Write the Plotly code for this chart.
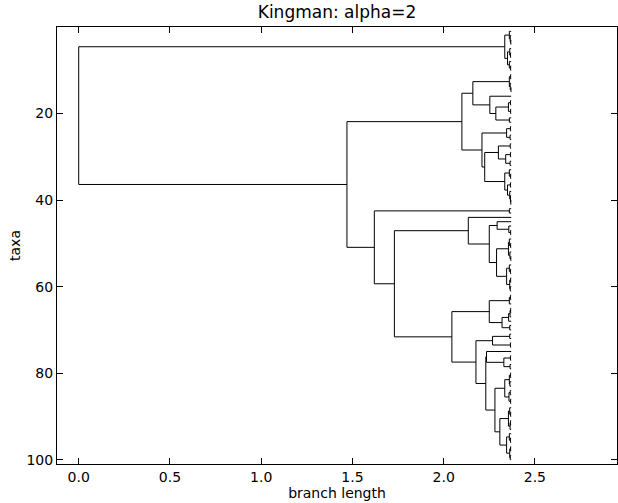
import plotly.graph_objects as go

# ---------------- data ----------------
TITLE = "Kingman: alpha=2"
X_LABEL = "branch length"
Y_LABEL = "taxa"
X_TICKS = [0.0, 0.5, 1.0, 1.5, 2.0, 2.5]
X_TICK_TEXT = ["0.0", "0.5", "1.0", "1.5", "2.0", "2.5"]
Y_TICKS = [20, 40, 60, 80, 100]
Y_TICK_TEXT = ["20", "40", "60", "80", "100"]
X_RANGE = [-0.119, 2.95]
Y_RANGE = [101, 0]
LEAF_X = 2.37  # all taxa sit at the same branch length (ultrametric tree)

# clades written as "(child,child):node_position"; leaves are taxa numbers
A1 = "(1,(2,(3,4):2.368):2.365):2.36"
A2 = "((5,(6,7):2.366):2.362,(8,(9,10):2.367):2.36):2.35"
CLADE_A = f"({A1},{A2}):2.335"

B1A1 = "((11,12):2.367,(13,(14,15):2.369):2.365):2.36"
B1A_X = "((17,18):2.366,(19,20):2.367):2.355"
B1A_Y = "(21,22):2.36"
B1A2 = f"(16,({B1A_X},{B1A_Y}):2.286):2.253"
B1A = f"({B1A1},{B1A2}):2.16"
B1B1 = "((23,24):2.366,(25,26):2.364):2.345"
B1B_P = "((27,28):2.365,((29,30):2.366,(31,32):2.364):2.34):2.30"
B1B_Q = "((33,(34,35):2.367):2.36,((36,37):2.366,(38,(39,(40,41):2.368):2.366):2.362):2.35):2.335"
B1B = f"({B1B1},({B1B_P},{B1B_Q}):2.225):2.21"
CLADE_B1 = f"({B1A},{B1B}):2.10"

B2A = "(42,43):2.36"
C1_U = "(45,(46,(47,48):2.367):2.357):2.293"
C1_L1 = "((49,(50,51):2.367):2.36,(52,(53,54):2.368):2.363):2.355"
C1_L2 = "((55,(56,57):2.366):2.36,((58,59):2.367,(60,61):2.365):2.362):2.345"
CLADE_C1 = f"(44,({C1_U},({C1_L1},{C1_L2}):2.29):2.25):2.135"

C2A = "(((62,63):2.366,64):2.36,((((65,66):2.367,67):2.364,68):2.356,(69,70):2.362):2.32):2.25"
C2_D1 = "((71,72):2.362,(73,74):2.366):2.268"
C2_D2A = "(75,((76,77):2.366,(78,79):2.364):2.33):2.235"
C2_E1 = "(((80,81):2.366,(82,83):2.363):2.36,((84,85):2.365,(86,87):2.367):2.358):2.335"
C2_E2A = "((88,(89,90):2.367):2.362,((91,92):2.366,93):2.364):2.355"
C2_E2B = "((94,(95,96):2.366):2.36,((97,98):2.367,(99,100):2.365):2.362):2.345"
C2_E = f"({C2_E1},({C2_E2A},{C2_E2B}):2.308):2.281"
CLADE_C2 = f"({C2A},({C2_D1},({C2_D2A},{C2_E}):2.231):2.177):2.045"

CLADE_B = f"({CLADE_B1},({B2A},({CLADE_C1},{CLADE_C2}):1.73):1.62):1.47"
TREE = f"({CLADE_A},{CLADE_B}):0"


# ---------------- tree parsing ----------------
def parse(s):
    pos = 0

    def number():
        nonlocal pos
        start = pos
        while pos < len(s) and (s[pos].isdigit() or s[pos] == "."):
            pos += 1
        return s[start:pos]

    def node():
        nonlocal pos
        if s[pos] == "(":
            pos += 1
            kids = [node()]
            while s[pos] == ",":
                pos += 1
                kids.append(node())
            pos += 1  # ')'
            pos += 1  # ':'
            return {"kids": kids, "x": float(number())}
        return {"leaf": int(number())}

    return node()


root = parse(TREE)
xs, ys = [], []


def layout(n):
    if "leaf" in n:
        return LEAF_X, float(n["leaf"])
    pts = [layout(k) for k in n["kids"]]
    cy = [p[1] for p in pts]
    xs.extend([n["x"], n["x"], None])
    ys.extend([min(cy), max(cy), None])
    for px, py in pts:
        xs.extend([n["x"], px, None])
        ys.extend([py, py, None])
    return n["x"], sum(cy) / len(cy)


layout(root)

fig = go.Figure()
fig.add_trace(go.Scatter(x=xs, y=ys, mode="lines",
                         line=dict(color="black", width=1),
                         hoverinfo="skip", showlegend=False))

axis_common = dict(showline=True, linecolor="black", linewidth=1, mirror="ticks",
                   ticks="inside", ticklen=6, tickwidth=1, tickcolor="black",
                   showgrid=False, zeroline=False, automargin=False,
                   tickfont=dict(size=14, color="black"))

fig.update_layout(
    width=618, height=503,
    margin=dict(l=57, r=1, t=27, b=39),
    plot_bgcolor="white", paper_bgcolor="white",
    font=dict(family="DejaVu Sans", color="black"),
    title=dict(text=TITLE, x=0.5, xref="paper", y=1 - 12 / 503, yref="container",
               xanchor="center", yanchor="middle", font=dict(size=17, color="black")),
    xaxis=dict(range=X_RANGE, tickvals=X_TICKS, ticktext=X_TICK_TEXT,
               title=dict(text=X_LABEL, font=dict(size=14), standoff=0), **axis_common),
    yaxis=dict(range=Y_RANGE, tickvals=Y_TICKS, ticktext=Y_TICK_TEXT,
               title=dict(text=Y_LABEL, font=dict(size=14), standoff=2), **axis_common),
)

fig.write_html("out.html",
               config={"displayModeBar": False},
               post_script="document.body.style.margin='0';document.body.style.padding='0';")
